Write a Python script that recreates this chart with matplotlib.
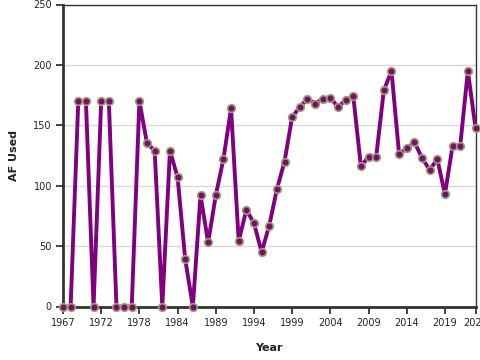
import matplotlib
matplotlib.use("Agg")
import matplotlib.pyplot as plt

years = [1967, 1968, 1969, 1970, 1971, 1972, 1973, 1974, 1976, 1977, 1978, 1979, 1980,
         1982, 1983, 1984, 1985, 1986, 1987, 1988, 1989, 1990, 1991, 1992, 1993, 1994,
         1995, 1996, 1997, 1998, 1999, 2000, 2001, 2002, 2003, 2004, 2005, 2006, 2007,
         2008, 2009, 2010, 2011, 2012, 2013, 2014, 2015, 2016, 2017, 2018, 2019, 2020,
         2021, 2022, 2023]
af_used = [0, 0, 170, 170, 0, 170, 170, 0, 0, 0, 170, 135, 129, 0, 129, 107, 39, 0,
           92, 53, 92, 122, 164, 54, 80, 69, 45, 67, 97, 120, 157, 165, 172, 168, 172,
           173, 165, 171, 174, 116, 124, 124, 179, 195, 126, 131, 136, 123, 113, 122,
           93, 133, 133, 195, 148]
tick_idx = [0, 5, 10, 15, 20, 25, 30, 35, 40, 45, 50, 54]

fig = plt.figure(figsize=(4.8, 3.6), dpi=100)
ax = fig.add_axes([63/480, 1 - 306.5/360, (475.5 - 63)/480, (306.5 - 4.5)/360])

x = list(range(len(years)))
ax.plot(x, af_used, color="#800080", linewidth=2.8, zorder=3, solid_joinstyle="round")
ax.plot(x, af_used, linestyle="none", marker="o", markersize=5.5,
        markerfacecolor="#6e1466", markeredgecolor="#a89a78", markeredgewidth=1.2,
        zorder=4, clip_on=False)

ax.set_xlim(0, len(years) - 1)
ax.set_ylim(0, 250)
ax.set_yticks([0, 50, 100, 150, 200, 250])
ax.set_xticks(tick_idx)
ax.set_xticklabels([str(years[i]) for i in tick_idx])
ax.grid(axis="y", color="#d9d9d9", linewidth=1)
ax.set_axisbelow(True)

for s in ["left", "bottom"]:
    ax.spines[s].set_linewidth(2)
    ax.spines[s].set_color("#333333")
for s in ["top", "right"]:
    ax.spines[s].set_linewidth(1)
    ax.spines[s].set_color("#333333")

ax.tick_params(axis="both", labelsize=7, colors="#222222", length=5, width=1.2, pad=3)
ax.set_xlabel("Year", fontsize=8, fontweight="bold", color="#222222", labelpad=11)
ax.set_ylabel("AF Used", fontsize=8, fontweight="bold", color="#222222", labelpad=10)

fig.savefig("out.png", dpi=100)
